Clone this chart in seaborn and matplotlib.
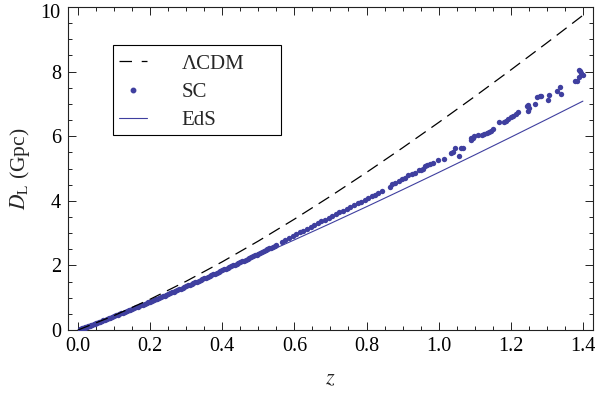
import numpy as np
import pandas as pd
import matplotlib
matplotlib.use("Agg")
import matplotlib.pyplot as plt
import matplotlib.transforms as mtransforms
from matplotlib.lines import Line2D
from matplotlib.patches import Rectangle
import seaborn as sns

# ---------------- data ----------------
z_curve = [0.0, 0.1, 0.2, 0.3, 0.4, 0.5, 0.6, 0.7, 0.8, 0.9, 1.0, 1.1, 1.2, 1.3, 1.4]
d_lcdm = [0.0, 0.447, 0.953, 1.510, 2.112, 2.754, 3.432, 4.142, 4.879, 5.641,
          6.425, 7.229, 8.051, 8.889, 9.743]
d_eds = [0.0, 0.426, 0.871, 1.331, 1.805, 2.292, 2.791, 3.299, 3.817, 4.344,
         4.878, 5.420, 5.969, 6.524, 7.086]

z_sc = [0.005, 0.008, 0.010, 0.012, 0.015, 0.018, 0.02, 0.022, 0.025, 0.028, 0.03, 0.033,
        0.036, 0.04, 0.043, 0.047, 0.05, 0.054, 0.058, 0.062, 0.066, 0.07, 0.075, 0.08,
        0.085, 0.09, 0.095, 0.1, 0.105, 0.11, 0.115, 0.12, 0.125, 0.13, 0.135, 0.14,
        0.145, 0.15, 0.155, 0.16, 0.165, 0.17, 0.175, 0.18, 0.185, 0.19, 0.195, 0.2,
        0.205, 0.21, 0.215, 0.22, 0.225, 0.23, 0.235, 0.24, 0.245, 0.25, 0.255, 0.26,
        0.265, 0.27, 0.275, 0.28, 0.285, 0.29, 0.295, 0.3, 0.305, 0.31, 0.315, 0.32,
        0.325, 0.33, 0.335, 0.34, 0.345, 0.35, 0.355, 0.36, 0.365, 0.37, 0.375, 0.38,
        0.385, 0.39, 0.395, 0.4, 0.405, 0.41, 0.415, 0.42, 0.425, 0.43, 0.435, 0.44,
        0.445, 0.45, 0.455, 0.46, 0.465, 0.47, 0.475, 0.48, 0.485, 0.49, 0.495, 0.5,
        0.505, 0.51, 0.515, 0.52, 0.525, 0.53, 0.535, 0.54, 0.545, 0.55,
        0.565, 0.575, 0.585, 0.595, 0.605, 0.615, 0.625, 0.635, 0.645, 0.655, 0.665,
        0.675, 0.685, 0.695, 0.705, 0.715, 0.725, 0.735,
        0.745, 0.755, 0.765, 0.775, 0.785, 0.795, 0.805, 0.814, 0.823, 0.833, 0.842,
        0.865, 0.870, 0.879, 0.890, 0.897, 0.907, 0.916, 0.925, 0.934, 0.945, 0.951,
        0.956, 0.962, 0.968, 0.976, 0.983, 0.999, 1.014, 1.033, 1.041, 1.044, 1.056,
        1.062, 1.067, 1.089, 1.090, 1.094, 1.098, 1.110, 1.119, 1.126, 1.133, 1.139,
        1.145, 1.151, 1.167, 1.182, 1.187, 1.191, 1.201, 1.207, 1.214, 1.221, 1.244,
        1.248, 1.249, 1.251, 1.268, 1.273, 1.281, 1.285, 1.304, 1.307, 1.327, 1.336,
        1.338, 1.379, 1.384, 1.388, 1.390, 1.392, 1.396, 1.399]
d_sc = [0.021, 0.034, 0.042, 0.051, 0.063, 0.076, 0.084, 0.093, 0.106, 0.118, 0.126, 0.139,
        0.152, 0.169, 0.182, 0.199, 0.212, 0.229, 0.246, 0.263, 0.281, 0.298, 0.319, 0.341,
        0.363, 0.385, 0.407, 0.429, 0.452, 0.474, 0.497, 0.518, 0.542, 0.563, 0.586, 0.607,
        0.631, 0.652, 0.676, 0.698, 0.721, 0.744, 0.766, 0.789, 0.813, 0.836, 0.858, 0.881,
        0.905, 0.928, 0.950, 0.974, 0.998, 1.021, 1.044, 1.068, 1.093, 1.116, 1.139, 1.163,
        1.188, 1.211, 1.235, 1.259, 1.284, 1.307, 1.331, 1.355, 1.380, 1.404, 1.428, 1.452,
        1.477, 1.501, 1.526, 1.550, 1.576, 1.600, 1.624, 1.649, 1.675, 1.699, 1.723, 1.748,
        1.774, 1.799, 1.823, 1.849, 1.875, 1.900, 1.925, 1.950, 1.976, 2.001, 2.026, 2.051,
        2.076, 2.100, 2.127, 2.152, 2.178, 2.205, 2.231, 2.258, 2.283, 2.310, 2.336, 2.362,
        2.389, 2.416, 2.442, 2.470, 2.497, 2.525, 2.552, 2.580, 2.605, 2.632,
        2.720, 2.780, 2.840, 2.900, 2.960, 3.020, 3.080, 3.135, 3.190, 3.250, 3.305,
        3.360, 3.420, 3.475, 3.530, 3.585, 3.640, 3.695,
        3.750, 3.800, 3.860, 3.920, 3.970, 4.030, 4.090, 4.140, 4.180, 4.240, 4.300,
        4.440, 4.520, 4.560, 4.620, 4.670, 4.720, 4.790, 4.820, 4.870, 4.940, 4.960,
        4.990, 5.080, 5.120, 5.150, 5.180, 5.260, 5.300, 5.490, 5.500, 5.640, 5.380,
        5.640, 5.650, 5.870, 5.930, 5.950, 6.020, 6.030, 6.050, 6.080, 6.100, 6.130,
        6.150, 6.210, 6.450, 6.440, 6.460, 6.540, 6.600, 6.640, 6.680, 6.740, 6.920,
        6.770, 6.970, 6.870, 7.000, 7.210, 7.260, 7.250, 7.110, 7.280, 7.400, 7.510,
        7.310, 7.720, 7.710, 7.830, 8.060, 8.020, 7.950, 7.900]

legend_labels = ["ΛCDM", "SC", "EdS"]
x_ticks = [0.0, 0.2, 0.4, 0.6, 0.8, 1.0, 1.2, 1.4]
y_ticks = [0, 2, 4, 6, 8, 10]

# ---------------- style ----------------
sns.set_theme(style="ticks")
plt.rcParams["font.family"] = ["Liberation Serif", "DejaVu Serif"]
plt.rcParams["mathtext.fontset"] = "stix"
plt.rcParams["lines.scale_dashes"] = False

BLUE = "#3f3f9f"

curves = pd.DataFrame({"z": z_curve, "lcdm": d_lcdm, "eds": d_eds})
sc = pd.DataFrame({"z": z_sc, "d": d_sc})

fig = plt.figure(figsize=(5.97, 3.94), dpi=100)
ax = fig.add_axes([0.1134, 0.1624, 0.8799, 0.8198])

sns.lineplot(data=curves, x="z", y="eds", ax=ax, color=BLUE, linewidth=0.8,
             sort=False, estimator=None)
sns.scatterplot(data=sc, x="z", y="d", ax=ax, color=BLUE, s=15, linewidth=0,
                zorder=3)
sns.lineplot(data=curves, x="z", y="lcdm", ax=ax, color="black", linewidth=0.9,
             linestyle=(0, (9, 5)), sort=False, estimator=None, zorder=4)

ax.set_xlim(-0.0286, 1.428)
ax.set_ylim(0, 10)
ax.set_xticks(x_ticks)
ax.set_xticklabels([f"{t:.1f}" for t in x_ticks])
ax.set_yticks(y_ticks)
ax.set_yticklabels([str(t) for t in y_ticks])
ax.set_xticks(np.arange(0, 1.401, 0.05), minor=True)
ax.set_yticks(np.arange(0, 10.01, 0.5), minor=True)
ax.tick_params(which="both", direction="in", top=True, right=True,
               width=0.7, colors="#222222", labelsize=14.5, labelcolor="black")
ax.tick_params(which="major", length=5.5, pad=5)
ax.tick_params(which="minor", length=3)
for sp in ax.spines.values():
    sp.set_linewidth(0.8)
    sp.set_color("#222222")

# nudge the top "10" label down a little so it stays inside the figure
top_lab = ax.get_yticklabels()[-1]
top_lab.set_transform(top_lab.get_transform() +
                      mtransforms.ScaledTranslation(0, -3 / 72, fig.dpi_scale_trans))

ax.set_xlabel("$z$", fontsize=16, labelpad=10)
ax.set_ylabel(r"$D_{\mathrm{L}}$ (Gpc)", fontsize=15.5, labelpad=6)

# legend: frame drawn as a rectangle, entries as a frameless legend
box = Rectangle((0.0862, 0.603), 0.3198, 0.278, transform=ax.transAxes,
                facecolor="white", edgecolor="black", linewidth=0.8,
                zorder=5, clip_on=False)
ax.add_patch(box)
handles = [
    Line2D([], [], color="black", linewidth=0.9, linestyle=(0, (9, 7))),
    Line2D([], [], color=BLUE, marker="o", markersize=3.2, linestyle="none"),
    Line2D([], [], color=BLUE, linewidth=0.8),
]
leg = ax.legend(handles, legend_labels, loc="upper left",
                bbox_to_anchor=(0.0975, 0.854), borderaxespad=0, borderpad=0,
                frameon=False, fontsize=15, handlelength=1.35,
                handletextpad=1.65, labelspacing=0.42)
leg.set_zorder(6)

fig.savefig("out.png", dpi=100)
